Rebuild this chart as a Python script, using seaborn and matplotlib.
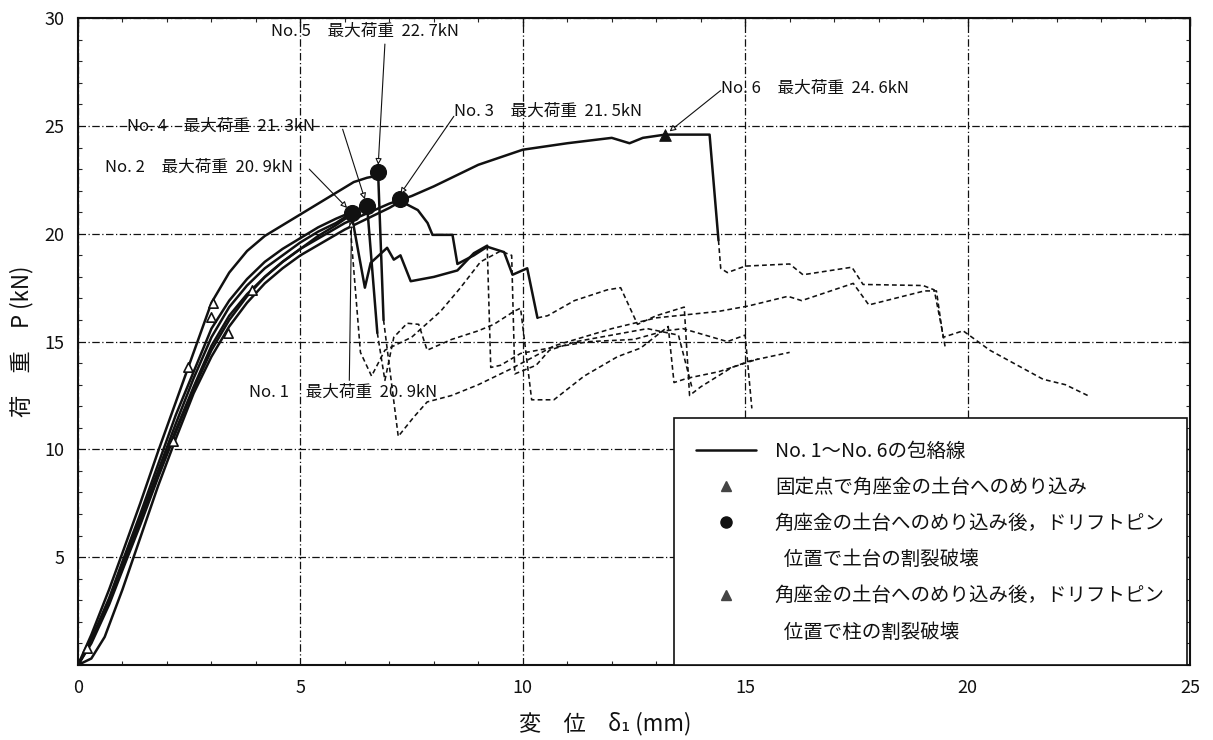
import numpy as np
import pandas as pd
import matplotlib
matplotlib.use("Agg")
import matplotlib.pyplot as plt
from matplotlib.lines import Line2D
import seaborn as sns

# ---------------- data ----------------
# No.1
no1_x = [0, 0.3, 0.7, 1.0, 1.4, 1.8, 2.2, 2.6, 3.0, 3.4, 3.8, 4.2, 4.6, 5.0, 5.4, 5.8, 6.15,
         6.45, 6.58, 6.95, 7.1, 7.25, 7.48, 8.0, 8.53, 8.9, 9.2]
no1_y = [0, 1.0, 2.8, 4.4, 6.5, 8.7, 10.8, 12.8, 14.6, 16.0, 17.1, 18.0, 18.7, 19.3, 19.9, 20.4, 20.9,
         17.5, 18.65, 19.35, 18.8, 19.0, 17.8, 18.0, 18.3, 19.1, 19.45]
no1_dx = [9.2, 9.28, 9.5, 9.95, 10.6, 11.5, 12.5, 13.2, 13.6, 14.6, 15.0, 15.15]
no1_dy = [19.45, 13.8, 13.9, 14.45, 14.7, 15.0, 15.1, 15.5, 15.6, 15.0, 15.3, 11.9]

# No.2
no2_x = [0, 0.3, 0.7, 1.0, 1.4, 1.8, 2.2, 2.6, 3.0, 3.4, 3.8, 4.2, 4.6, 5.0, 5.4, 5.8, 6.1]
no2_y = [0, 1.1, 3.0, 4.6, 6.8, 9.0, 11.2, 13.3, 15.2, 16.6, 17.6, 18.4, 19.0, 19.6, 20.1, 20.5, 20.9]
no2_dx = [6.1, 6.35, 6.6, 6.9, 7.5, 8.15, 8.6, 9.05, 9.5, 9.75, 9.82, 10.3, 10.6, 11.2, 12.0, 12.8, 13.5, 13.8]
no2_dy = [20.9, 14.5, 13.4, 14.6, 15.2, 16.4, 17.5, 18.7, 19.2, 19.0, 13.5, 13.9, 14.6, 15.0, 15.3, 15.6, 15.3, 12.9]

# No.3
no3_x = [0, 0.3, 0.6, 1.0, 1.4, 1.8, 2.2, 2.6, 3.0, 3.4, 3.8, 4.2, 4.6, 5.0, 5.5, 6.0, 6.5, 7.0, 7.25,
         7.36, 7.64, 7.86, 7.97, 8.42, 8.53, 8.9, 9.2, 9.58, 9.77, 10.1, 10.33]
no3_y = [0, 0.3, 1.3, 3.5, 5.9, 8.3, 10.5, 12.6, 14.3, 15.7, 16.8, 17.7, 18.4, 19.0, 19.6, 20.2, 20.7, 21.2, 21.5,
         21.4, 21.1, 20.5, 19.95, 19.95, 18.6, 19.0, 19.4, 19.15, 18.1, 18.4, 16.1]
no3_dx = [10.33, 10.56, 11.16, 11.9, 12.2, 12.58, 13.0, 13.63, 13.75, 14.0, 14.7, 15.1, 16.0]
no3_dy = [16.1, 16.2, 16.9, 17.4, 17.5, 15.8, 16.2, 16.6, 12.5, 12.9, 13.8, 14.1, 14.5]

# No.4
no4_x = [0, 0.3, 0.7, 1.0, 1.4, 1.8, 2.2, 2.6, 3.0, 3.4, 3.8, 4.2, 4.6, 5.0, 5.4, 5.8, 6.2, 6.5, 6.73]
no4_y = [0, 1.2, 3.1, 4.8, 7.0, 9.3, 11.6, 13.6, 15.6, 16.9, 17.9, 18.7, 19.3, 19.8, 20.3, 20.7, 21.05, 21.3, 15.4]
no4_dx = [6.73, 6.9, 7.1, 7.4, 7.66, 7.85, 8.4, 9.0, 9.35, 9.8, 9.95, 10.2, 10.7, 11.38, 12.13, 12.65,
          13.27, 13.4, 13.7, 14.4, 15.0, 15.3]
no4_dy = [15.4, 13.2, 15.2, 15.85, 15.8, 14.6, 15.1, 15.5, 15.8, 16.4, 16.55, 12.3, 12.3, 13.4, 14.3, 14.7,
          15.7, 13.1, 13.3, 13.6, 14.0, 14.2]

# No.5
no5_x = [0, 0.3, 0.7, 1.0, 1.4, 1.8, 2.2, 2.6, 3.0, 3.4, 3.8, 4.2, 4.6, 5.0, 5.4, 5.8, 6.2, 6.5, 6.75, 6.87]
no5_y = [0, 1.4, 3.5, 5.2, 7.5, 9.9, 12.2, 14.5, 16.8, 18.2, 19.2, 19.9, 20.4, 20.9, 21.4, 21.9, 22.4, 22.6, 22.7, 16.0]
no5_dx = [6.87, 7.2, 7.55, 7.85, 8.4, 9.0, 9.7, 10.25, 10.7, 12.0, 13.0, 14.4, 15.07, 15.96, 16.27, 17.43,
          17.78, 19.03, 19.3, 19.45, 19.9, 20.5, 21.3, 21.7, 22.2, 22.7]
no5_dy = [16.0, 10.6, 11.5, 12.2, 12.5, 13.0, 13.7, 14.3, 14.8, 15.6, 16.1, 16.4, 16.65, 17.1, 16.9, 17.7,
          16.7, 17.35, 17.35, 15.2, 15.5, 14.6, 13.7, 13.25, 13.0, 12.5]

# No.6
no6_x = [0, 0.3, 0.7, 1.0, 1.4, 1.8, 2.2, 2.6, 3.0, 3.4, 3.8, 4.2, 4.6, 5.0, 5.5, 6.0, 6.5, 7.0, 7.5, 8.0,
         9.0, 10.0, 11.0, 12.0, 12.4, 12.7, 13.2, 14.2, 14.4]
no6_y = [0, 1.1, 2.9, 4.5, 6.6, 8.8, 10.9, 12.9, 14.8, 16.2, 17.2, 18.0, 18.7, 19.3, 19.9, 20.5, 20.95, 21.4,
         21.75, 22.2, 23.2, 23.9, 24.2, 24.45, 24.2, 24.45, 24.6, 24.6, 19.7]
no6_dx = [14.4, 14.45, 14.6, 15.0, 16.0, 16.3, 17.4, 17.65, 19.0, 19.25, 19.45, 19.5]
no6_dy = [19.7, 18.4, 18.2, 18.5, 18.6, 18.1, 18.45, 17.65, 17.6, 17.4, 15.3, 14.7]

# peak markers (maximum loads)
peak_x = [6.15, 6.5, 6.75, 7.25]
peak_y = [20.95, 21.3, 22.85, 21.6]
peak6_x = [13.2]
peak6_y = [24.6]
# embedment markers on rising branches
tri_x = [0.2, 2.14, 2.48, 3.0, 3.04, 3.38, 3.92]
tri_y = [0.8, 10.4, 13.8, 16.15, 16.8, 15.4, 17.4]

# annotations: (text, text x, text y, arrow x, arrow y)
ann_text = ["No. 5　最大荷重  22. 7kN", "No. 4　最大荷重  21. 3kN", "No. 3　最大荷重  21. 5kN",
            "No. 2　最大荷重  20. 9kN", "No. 1　最大荷重  20. 9kN", "No. 6　最大荷重  24. 6kN"]
ann_tx = [4.35, 1.1, 8.45, 0.6, 3.85, 14.45]
ann_ty = [29.4, 25.0, 25.7, 23.1, 12.65, 26.75]
ann_ax = [6.75, 6.45, 7.25, 6.05, 6.15, 13.3]
ann_ay = [23.2, 21.6, 21.85, 21.2, 20.6, 24.75]
ann_sx = [6.9, 5.95, 8.45, 5.2, 6.1, 14.45]
ann_sy = [28.8, 24.85, 25.45, 23.0, 13.2, 26.65]

x_ticks = [0, 5, 10, 15, 20, 25]
y_ticks = [5, 10, 15, 20, 25, 30]

legend_labels = ["No. 1～No. 6の包絡線",
                 "固定点で角座金の土台へのめり込み",
                 "角座金の土台へのめり込み後，ドリフトピン",
                 "  位置で土台の割裂破壊",
                 "角座金の土台へのめり込み後，ドリフトピン",
                 "  位置で柱の割裂破壊"]

# ---------------- drawing ----------------
sns.set_style("white")
plt.rcParams['font.family'] = ['Noto Sans CJK JP', 'DejaVu Sans']

ink = "#111111"
fig = plt.figure(figsize=(12.13, 7.40), dpi=100)
ax = fig.add_axes([0.0643, 0.1014, 0.9167, 0.874])

solid = [(no1_x, no1_y), (no2_x, no2_y), (no3_x, no3_y), (no4_x, no4_y), (no5_x, no5_y), (no6_x, no6_y)]
dashed = [(no1_dx, no1_dy), (no2_dx, no2_dy), (no3_dx, no3_dy), (no4_dx, no4_dy), (no5_dx, no5_dy), (no6_dx, no6_dy)]

for xs, ys in dashed:
    sns.lineplot(x=xs, y=ys, ax=ax, sort=False, estimator=None, color=ink, lw=1.15,
                 linestyle=(0, (3, 2)))
for xs, ys in solid:
    sns.lineplot(x=xs, y=ys, ax=ax, sort=False, estimator=None, color=ink, lw=1.8)

sns.scatterplot(x=tri_x, y=tri_y, ax=ax, marker="^", s=45, color="white", edgecolor=ink, linewidth=1.2, zorder=5)
sns.scatterplot(x=peak_x, y=peak_y, ax=ax, marker="o", s=130, color=ink, edgecolor=ink, zorder=6)
sns.scatterplot(x=peak6_x, y=peak6_y, ax=ax, marker="^", s=70, color=ink, edgecolor=ink, zorder=6)

for t, tx, ty, axx, ayy, sx, sy in zip(ann_text, ann_tx, ann_ty, ann_ax, ann_ay, ann_sx, ann_sy):
    ax.text(tx, ty, t, fontsize=12, color=ink, va="center", ha="left", zorder=7)
    ax.annotate("", xy=(axx, ayy), xytext=(sx, sy),
                arrowprops=dict(arrowstyle="-|>", color=ink, lw=0.8, mutation_scale=9,
                                shrinkA=0, shrinkB=0, fc="white"), zorder=7)

ax.set_xlim(0, 25)
ax.set_ylim(0, 30)
ax.set_xticks(x_ticks)
ax.set_yticks(y_ticks)
ax.set_xticklabels([str(v) for v in x_ticks])
ax.set_yticklabels([str(v) for v in y_ticks])
ax.set_xticks(np.arange(0, 26, 1), minor=True)
ax.set_yticks(np.arange(0, 31, 1), minor=True)
ax.tick_params(axis="both", which="major", direction="in", length=6, width=1, labelsize=13,
               colors=ink, top=True, right=True, pad=10)
ax.tick_params(axis="both", which="minor", direction="in", length=3, width=0.8,
               top=True, right=True, bottom=True, left=True)
ax.grid(True, which="major", color=ink, lw=0.9, linestyle=(0, (6, 2, 1, 2)))
for s in ax.spines.values():
    s.set_color(ink)
    s.set_linewidth(1.5)

ax.set_xlabel("変　位　δ₁ (mm)", fontsize=16, color=ink)
ax.xaxis.set_label_coords(0.474, -0.072)
ax.set_ylabel("荷　重　P (kN)", fontsize=16, color=ink)
ax.yaxis.set_label_coords(-0.04, 0.5)

blank = Line2D([], [], linestyle="none", marker=None)
handles = [Line2D([], [], color=ink, lw=1.8),
           Line2D([], [], color="#444444", marker="^", linestyle="none", markersize=7),
           Line2D([], [], color=ink, marker="o", linestyle="none", markersize=8),
           blank,
           Line2D([], [], color="#444444", marker="^", linestyle="none", markersize=7),
           blank]
leg = ax.legend(handles, legend_labels, loc="lower right", bbox_to_anchor=(0.9975, 0.0),
                fontsize=14, frameon=True, fancybox=False, framealpha=1, edgecolor=ink,
                borderpad=1.15, labelspacing=0.78, handlelength=3.1, handletextpad=0.95,
                borderaxespad=0.0)
leg.get_frame().set_linewidth(1.2)
for t in leg.get_texts():
    t.set_color(ink)

fig.savefig("out.png", dpi=100)
